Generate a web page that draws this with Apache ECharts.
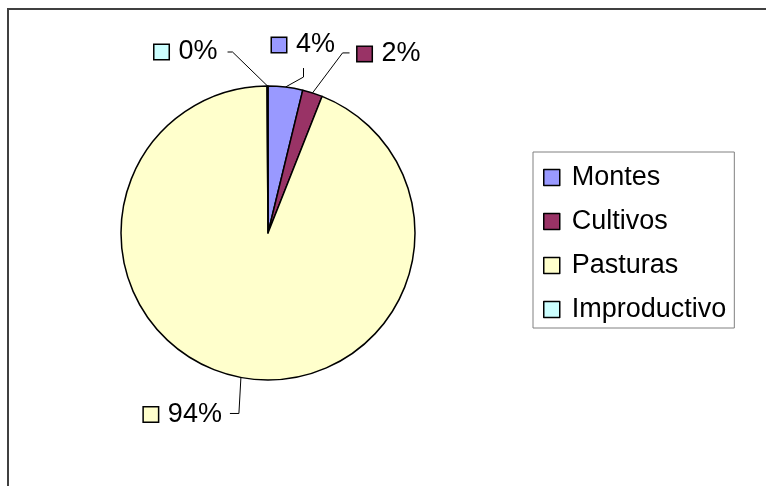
<!DOCTYPE html>
<html>
<head>
<meta charset="utf-8">
<script src="https://cdn.jsdelivr.net/npm/echarts@6/dist/echarts.min.js"></script>
<style>
html,body{margin:0;padding:0;background:#fff;}
#chart{width:766px;height:486px;}
</style>
</head>
<body>
<div id="chart"></div>
<script>
// Data
var categories = ['Montes', 'Cultivos', 'Pasturas', 'Improductivo'];
var values = [3.8, 2.2, 93.9, 0.1];
var colors = ['#9999FF', '#993366', '#FFFFCC', '#CCFFFF'];

var FONT = '"Liberation Sans", Arial, sans-serif';

// label leader geometry, relative to the slice edge point given by the library
var labelGeom = [
  {bend: [18, -10], end: [18, -19], anchor: [18, -42], align: 'center'},
  {bend: [30, -40], end: [37, -40], anchor: [45, -39], align: 'left'},
  {bend: [-2, 36], end: [-11, 36], anchor: [-19, 37], align: 'right'},
  {bend: [-35, -34], end: [-40, -34], anchor: [-50, -34], align: 'right'}
];

var rich = {t: {fontSize: 27, fontFamily: FONT, color: '#000', padding: [0, 0, 0, 10]}};
colors.forEach(function (c, i) {
  rich['b' + i] = {width: 14, height: 14, backgroundColor: c, borderColor: '#000', borderWidth: 1.5};
});

var chart = echarts.init(document.getElementById('chart'), null, {renderer: 'canvas'});
chart.setOption({
  animation: false,
  backgroundColor: '#fff',
  color: colors,
  graphic: [{
    type: 'rect',
    shape: {x: 8, y: 9, width: 900, height: 700},
    style: {fill: 'none', stroke: '#404040', lineWidth: 2},
    silent: true
  }],
  legend: {
    orient: 'vertical',
    left: 533,
    top: 152,
    data: categories,
    icon: 'rect',
    itemWidth: 16,
    itemHeight: 16,
    itemGap: 17,
    padding: [12, 8, 5, 10],
    borderColor: '#808080',
    borderWidth: 1,
    itemStyle: {borderColor: '#000', borderWidth: 1.5},
    textStyle: {fontSize: 27, fontFamily: FONT, color: '#000', padding: [0, 0, 0, 7]}
  },
  series: [{
    type: 'pie',
    center: [268, 233],
    radius: 147,
    startAngle: 90,
    clockwise: true,
    avoidLabelOverlap: false,
    itemStyle: {borderColor: '#000', borderWidth: 1.5},
    emphasis: {disabled: true},
    label: {
      show: true,
      position: 'outside',
      formatter: function (p) {
        return '{b' + p.dataIndex + '|}{t|' + Math.round(p.percent) + '%}';
      },
      rich: rich
    },
    labelLine: {show: true, length: 15, length2: 8, lineStyle: {color: '#000', width: 1}},
    labelLayout: function (params) {
      var g = labelGeom[params.dataIndex];
      var p0 = params.labelLinePoints[0];
      return {
        x: p0[0] + g.anchor[0],
        y: p0[1] + g.anchor[1],
        align: g.align,
        verticalAlign: 'middle',
        labelLinePoints: [
          [p0[0], p0[1]],
          [p0[0] + g.bend[0], p0[1] + g.bend[1]],
          [p0[0] + g.end[0], p0[1] + g.end[1]]
        ]
      };
    },
    data: categories.map(function (c, i) { return {name: c, value: values[i]}; })
  }]
});
</script>
</body>
</html>
